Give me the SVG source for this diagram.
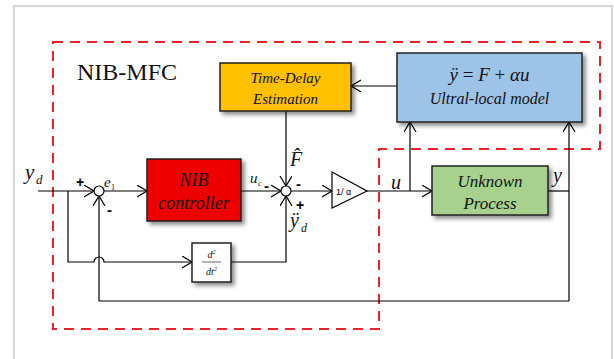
<svg xmlns="http://www.w3.org/2000/svg" width="614" height="359" viewBox="0 0 614 359">
<defs>
<marker id="arr" markerUnits="userSpaceOnUse" markerWidth="14" markerHeight="14" refX="10" refY="6" orient="auto">
<path d="M0,0 L10,6 L0,12" fill="none" stroke="#000" stroke-width="1.2"/>
</marker>
<filter id="sh" x="-10%" y="-10%" width="130%" height="140%">
<feDropShadow dx="3" dy="3" stdDeviation="2" flood-color="#000" flood-opacity="0.45"/>
</filter>
<style>
.ln{fill:none;stroke:#000;stroke-width:1.2}
.box{stroke:#222;stroke-width:1.5;filter:url(#sh)}
.it{font-family:"Liberation Serif",serif;font-style:italic;fill:#111}
.rm{font-family:"Liberation Serif",serif;fill:#111}
.sg{font-family:"Liberation Sans",sans-serif;font-weight:bold;fill:#000}
</style>
</defs>
<rect x="14" y="6" width="598" height="370" fill="#fff" stroke="#bbb" stroke-width="1.2"/>
<path d="M53,42 L600,42 L600,149 L379,149 L379,329 L53,329 Z" fill="none" stroke="#e8232a" stroke-width="2" stroke-dasharray="10,7"/>
<text class="rm" x="77" y="80" font-size="24">NIB-MFC</text>

<g id="connectors">
<path class="ln" d="M38,191 L94,191" marker-end="url(#arr)"/>
<path class="ln" d="M68,191 L68,262 L94,262 A5,5 0 0 1 104,262 L192,262" marker-end="url(#arr)"/>
<path class="ln" d="M104,191 L147,191" marker-end="url(#arr)"/>
<path class="ln" d="M241,191 L281,191" marker-end="url(#arr)"/>
<path class="ln" d="M286,111 L286,186" marker-end="url(#arr)"/>
<path class="ln" d="M231,262 L286,262 L286,196" marker-end="url(#arr)"/>
<path class="ln" d="M291,191 L332,191" marker-end="url(#arr)"/>
<path class="ln" d="M367,191 L432,191" marker-end="url(#arr)"/>
<path class="ln" d="M410,191 L410,122" marker-end="url(#arr)"/>
<path class="ln" d="M397,86 L351,86" marker-end="url(#arr)"/>
<path class="ln" d="M548,191 L569,191"/>
<path class="ln" d="M569,301 L569,122" marker-end="url(#arr)"/>
<path class="ln" d="M569,301 L99,301 L99,196" marker-end="url(#arr)"/>
</g>

<g id="sum1">
<circle cx="99" cy="191" r="5" fill="#fff" stroke="#000" stroke-width="1.2"/>
<text class="sg" x="76" y="187" font-size="14">+</text>
<text class="sg" x="107" y="215" font-size="15">-</text>
<text class="it" x="104" y="187" font-size="15">e</text>
<text class="rm" x="111" y="190" font-size="8">1</text>
</g>

<g id="sum2">
<circle cx="286" cy="191" r="5" fill="#fff" stroke="#000" stroke-width="1.2"/>
<text class="sg" x="296" y="189" font-size="15">-</text>
<text class="sg" x="296" y="210" font-size="14">+</text>
</g>

<g id="tde">
<rect class="box" x="220" y="63" width="131" height="48" fill="#ffc000"/>
<text class="it" x="285.5" y="83" font-size="15" text-anchor="middle">Time-Delay</text>
<text class="it" x="285.5" y="104" font-size="15" text-anchor="middle">Estimation</text>
</g>

<g id="ultra">
<rect class="box" x="397" y="53" width="185" height="69" fill="#9dc3e6"/>
<text class="rm" x="489.5" y="81" font-size="19" text-anchor="middle"><tspan class="it">ÿ</tspan> = <tspan class="it">F</tspan> + <tspan class="it">αu</tspan></text>
<text class="it" x="489.5" y="104" font-size="16" text-anchor="middle">Ultral-local model</text>
</g>

<g id="nib">
<rect class="box" x="147" y="159" width="94" height="62" fill="#ee0000"/>
<text class="it" x="194" y="186" font-size="18" text-anchor="middle">NIB</text>
<text class="it" x="194" y="209" font-size="18" text-anchor="middle">controller</text>
</g>

<g id="process">
<rect class="box" x="432" y="166" width="116" height="49" fill="#a9d18e"/>
<text class="it" x="490" y="187" font-size="17" text-anchor="middle">Unknown</text>
<text class="it" x="490" y="209" font-size="17" text-anchor="middle">Process</text>
</g>

<g id="deriv">
<rect class="box" x="192" y="243" width="39" height="39" fill="#fff" stroke="#555" stroke-width="1"/>
<text class="it" x="211.5" y="258" font-size="10" text-anchor="middle">d<tspan font-size="6" dy="-4">2</tspan></text>
<line x1="202" y1="262" x2="221" y2="262" stroke="#000" stroke-width="0.6"/>
<text class="it" x="211.5" y="275" font-size="10" text-anchor="middle">dt<tspan font-size="6" dy="-4">2</tspan></text>
</g>

<g id="gain">
<path d="M332,172 L367,191 L332,208 Z" fill="#fff" stroke="#000" stroke-width="1.2"/>
<text x="336" y="195" font-family="Liberation Sans, sans-serif" font-size="9" fill="#000">1/ α</text>
</g>

<g id="labels">
<text class="it" x="25" y="179" font-size="21">y</text>
<text class="it" x="36" y="184" font-size="13">d</text>
<text class="it" x="250" y="183" font-size="15">u</text>
<text class="it" x="258" y="186" font-size="8">c</text>
<text class="sg" x="264" y="191" font-size="15">-</text>
<text class="it" x="290" y="166" font-size="20">F̂</text>
<text class="it" x="290" y="227" font-size="20">ÿ</text>
<text class="it" x="301" y="232" font-size="12">d</text>
<text class="it" x="391" y="189" font-size="20">u</text>
<text class="it" x="553" y="182" font-size="20">y</text>
</g>
</svg>
